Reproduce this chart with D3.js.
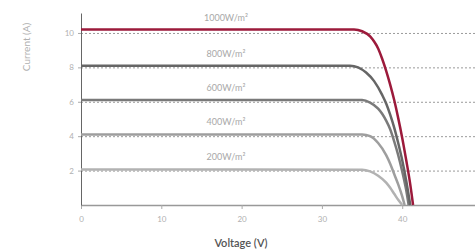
<!DOCTYPE html>
<html><head><meta charset="utf-8">
<script src="https://cdn.jsdelivr.net/npm/d3@7"></script>
<style>body{margin:0;background:#fff}svg{display:block}</style>
</head><body>
<svg id="c" width="475" height="250"></svg>
<script>
const seriesNames = ["1000W/m²","800W/m²","600W/m²","400W/m²","200W/m²"];
const v1000 = [0,34,35,36,36.5,37,37.5,38,38.5,39,39.5,40,40.5,41,41.35];
const i1000 = [10.2,10.2,10.1,9.8,9.5,9.1,8.5,7.8,7.0,6.1,5.05,3.9,2.6,1.2,0];
const v800 = [0,33.5,34.5,35.5,36.5,37.5,38,38.5,39,39.5,40,40.5,41];
const i800 = [8.1,8.1,8.0,7.7,7.2,6.4,5.9,5.25,4.5,3.6,2.6,1.4,0];
const v600 = [0,35,36,37,37.5,38,38.5,39,39.5,40,40.5,40.8];
const i600 = [6.1,6.1,5.95,5.6,5.3,4.9,4.4,3.7,2.9,1.95,0.85,0];
const v400 = [0,35,36,37,38,38.5,39,39.5,40,40.3];
const i400 = [4.1,4.1,4.0,3.6,2.9,2.4,1.8,1.2,0.5,0];
const v200 = [0,35,36,37,38,38.5,39,39.5,40];
const i200 = [2.07,2.05,1.95,1.7,1.3,1.0,0.65,0.3,0];
const xTicks = [0,10,20,30,40];
const yTicks = [2,4,6,8,10];
const colors = ["#9c1a3b","#666666","#7a7a7a","#9e9e9e","#b2b2b2"];

const vs = [v1000,v800,v600,v400,v200];
const is = [i1000,i800,i600,i400,i200];
const series = seriesNames.map((n,k)=>({name:n,color:colors[k],pts:vs[k].map((v,j)=>[v,is[k][j]])}));

const svg = d3.select("#c");
const x = d3.scaleLinear().domain([0,49]).range([81,474.5]);
const y = d3.scaleLinear().domain([0,11.16]).range([205,13]);

// dashed gridlines
svg.append("g").selectAll("line").data(yTicks).join("line")
  .attr("x1",x(0)).attr("x2",475).attr("y1",d=>y(d)+0.5).attr("y2",d=>y(d)+0.5)
  .attr("stroke","#9a9a9a").attr("stroke-width",1).attr("stroke-dasharray","2,2");

// x axis
const xa = svg.append("g").attr("transform",`translate(0,${y(0)})`)
  .call(d3.axisBottom(x).tickValues(xTicks).tickSize(4).tickSizeOuter(0).tickFormat(d3.format("d")));
xa.select(".domain").attr("stroke","#999").attr("stroke-width",1.5);
xa.selectAll(".tick line").attr("stroke","#aaa");
xa.selectAll("text").attr("fill","#b0b0b0").attr("font-family","Lato, sans-serif").attr("font-size",8).attr("dy","1.3em");

// y axis
const ya = svg.append("g").attr("transform",`translate(${x(0)},0)`)
  .call(d3.axisLeft(y).tickValues(yTicks).tickSize(3).tickSizeOuter(0));
ya.select(".domain").attr("stroke","#666").attr("stroke-width",1);
ya.selectAll(".tick line").attr("stroke","#aaa");
ya.selectAll("text").attr("fill","#b0b0b0").attr("font-family","Lato, sans-serif").attr("font-size",8).attr("x",-7);

// curves
const line = d3.line().x(d=>x(d[0])).y(d=>y(d[1])).curve(d3.curveMonotoneX);
svg.append("g").selectAll("path").data(series.slice().reverse()).join("path")
  .attr("d",d=>line(d.pts)).attr("fill","none").attr("stroke",d=>d.color)
  .attr("stroke-width",2.5).attr("stroke-linejoin","round");

// labels
svg.append("g").selectAll("text").data(series).join("text")
  .attr("x",226).attr("y",d=>y(d.pts[0][1])-9).attr("text-anchor","middle")
  .attr("font-family","Lato, sans-serif").attr("font-size",9).attr("fill","#a8a8a8")
  .text(d=>d.name);

// axis titles
svg.append("text").attr("transform","translate(30,47) rotate(-90)").attr("text-anchor","middle")
  .attr("font-family","Lato, sans-serif").attr("font-size",10).attr("fill","#b0b0b0").text("Current (A)");
svg.append("text").attr("x",241).attr("y",247).attr("text-anchor","middle")
  .attr("font-family","Lato, sans-serif").attr("font-size",11).attr("font-weight",600).attr("fill","#555").text("Voltage (V)");
</script>
</body></html>
